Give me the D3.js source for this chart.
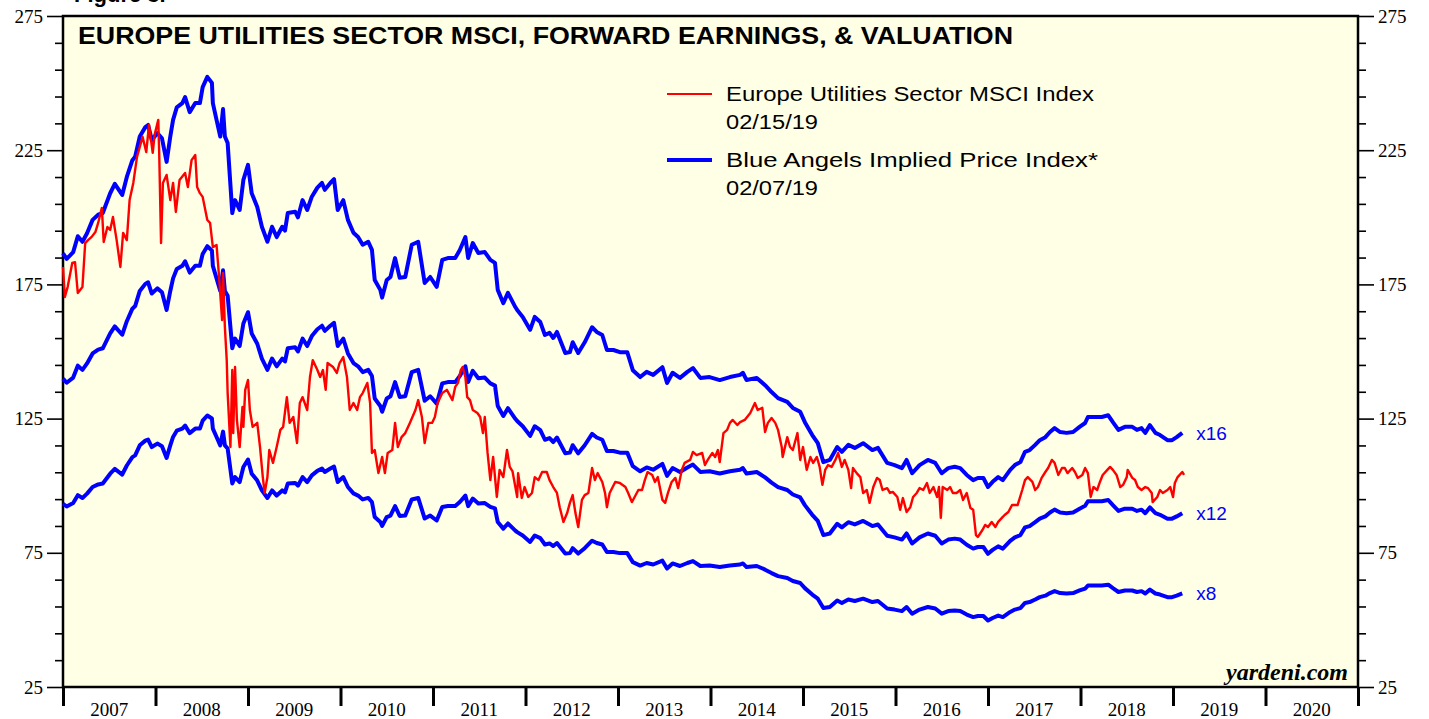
<!DOCTYPE html>
<html>
<head>
<meta charset="utf-8">
<script src="https://cdn.jsdelivr.net/npm/d3@7"></script>
<style>
  body { margin: 0; background: #ffffff; }
  svg { display: block; }
</style>
</head>
<body>
<svg id="drawing_region"></svg>
<script>
// year labels on the x axis, y tick values
const years = d3.range(2007, 2021);
const yTicks = d3.range(25, 276, 10);
const multiples = [16, 12, 8];

// forward earnings (decimal year, value) -- blue lines are these times the multiples
const fwdEarnings = [
  [2007.00,11.66],[2007.04,11.53],[2007.11,11.69],[2007.16,12.06],[2007.21,11.93],[2007.26,12.13],
  [2007.32,12.44],[2007.38,12.56],[2007.43,12.60],[2007.51,13.06],[2007.56,13.28],[2007.64,13.02],
  [2007.69,13.44],[2007.75,13.83],[2007.78,13.91],[2007.83,14.38],[2007.89,14.60],[2007.92,14.65],
  [2007.96,14.30],[2008.02,14.46],[2008.07,14.34],[2008.12,13.79],[2008.16,14.38],[2008.19,14.77],
  [2008.23,15.06],[2008.29,15.16],[2008.32,15.30],[2008.37,14.95],[2008.43,15.16],[2008.48,15.16],
  [2008.51,15.53],[2008.56,15.77],[2008.61,15.63],[2008.62,15.16],[2008.66,14.77],[2008.70,14.38],
  [2008.73,15.02],[2008.75,14.38],[2008.78,14.23],[2008.83,12.60],[2008.86,12.90],[2008.91,12.67],
  [2008.95,13.37],[2009.00,13.72],[2009.04,13.06],[2009.10,12.74],[2009.15,12.28],[2009.21,11.93],
  [2009.26,12.28],[2009.31,12.04],[2009.37,12.28],[2009.40,12.19],[2009.43,12.60],[2009.51,12.63],
  [2009.54,12.50],[2009.59,12.90],[2009.64,12.67],[2009.69,12.98],[2009.75,13.19],[2009.80,13.30],
  [2009.83,13.14],[2009.89,13.30],[2009.93,13.39],[2009.97,12.67],[2010.03,12.90],[2010.08,12.44],
  [2010.14,12.14],[2010.19,12.04],[2010.24,11.86],[2010.30,11.93],[2010.34,11.74],[2010.37,11.04],
  [2010.43,10.81],[2010.45,10.63],[2010.50,11.04],[2010.54,11.11],[2010.59,11.55],[2010.64,11.09],
  [2010.70,11.11],[2010.77,11.86],[2010.84,11.93],[2010.91,10.97],[2010.97,11.11],[2011.04,10.88],
  [2011.10,11.51],[2011.16,11.55],[2011.24,11.55],[2011.29,11.74],[2011.35,12.04],[2011.38,11.55],
  [2011.43,11.90],[2011.49,11.67],[2011.56,11.69],[2011.62,11.51],[2011.67,11.44],[2011.70,10.81],
  [2011.76,10.50],[2011.81,10.74],[2011.89,10.41],[2011.91,10.34],[2011.97,10.18],[2012.05,9.88],
  [2012.10,10.18],[2012.16,10.06],[2012.21,9.76],[2012.26,9.81],[2012.30,9.69],[2012.34,9.83],
  [2012.43,9.34],[2012.48,9.36],[2012.51,9.59],[2012.57,9.34],[2012.64,9.59],[2012.72,9.94],
  [2012.77,9.83],[2012.83,9.76],[2012.88,9.41],[2012.95,9.41],[2013.02,9.36],[2013.10,9.36],
  [2013.16,8.94],[2013.24,8.78],[2013.31,8.90],[2013.38,8.83],[2013.48,9.01],[2013.53,8.64],
  [2013.59,8.88],[2013.67,8.76],[2013.75,8.90],[2013.81,8.99],[2013.89,8.76],[2013.99,8.78],
  [2014.10,8.71],[2014.21,8.78],[2014.32,8.83],[2014.35,8.88],[2014.39,8.71],[2014.50,8.76],
  [2014.59,8.59],[2014.66,8.43],[2014.73,8.29],[2014.83,8.20],[2014.89,8.06],[2014.97,7.97],
  [2015.02,7.73],[2015.10,7.43],[2015.16,7.24],[2015.22,6.80],[2015.29,6.85],[2015.37,7.15],
  [2015.42,7.04],[2015.49,7.20],[2015.56,7.13],[2015.65,7.24],[2015.75,7.08],[2015.81,7.13],
  [2015.91,6.78],[2015.99,6.73],[2016.07,6.66],[2016.12,6.85],[2016.18,6.54],[2016.26,6.73],
  [2016.35,6.85],[2016.43,6.78],[2016.50,6.54],[2016.57,6.66],[2016.64,6.69],[2016.70,6.66],
  [2016.77,6.50],[2016.84,6.38],[2016.89,6.43],[2016.95,6.43],[2017.00,6.22],[2017.05,6.34],
  [2017.11,6.45],[2017.16,6.38],[2017.24,6.62],[2017.29,6.73],[2017.35,6.80],[2017.40,7.04],
  [2017.45,7.08],[2017.51,7.20],[2017.56,7.31],[2017.62,7.38],[2017.67,7.50],[2017.72,7.59],
  [2017.78,7.50],[2017.85,7.48],[2017.92,7.50],[2017.99,7.62],[2018.05,7.71],[2018.08,7.85],
  [2018.16,7.85],[2018.23,7.85],[2018.30,7.89],[2018.35,7.73],[2018.41,7.55],[2018.48,7.62],
  [2018.56,7.62],[2018.61,7.55],[2018.66,7.59],[2018.70,7.48],[2018.75,7.66],[2018.81,7.48],
  [2018.86,7.43],[2018.94,7.31],[2018.99,7.31],[2019.04,7.38],[2019.10,7.48]
];

// Europe Utilities Sector MSCI index (decimal year, value)
const msciIndex = [
  [2007.00,181.5],[2007.02,170.3],[2007.05,174.0],[2007.10,183.0],[2007.13,183.3],[2007.16,171.8],
  [2007.21,174.0],[2007.24,190.4],[2007.27,191.5],[2007.31,192.7],[2007.35,194.5],[2007.38,197.9],
  [2007.42,203.5],[2007.44,190.8],[2007.48,196.4],[2007.51,195.3],[2007.54,200.1],[2007.58,191.5],
  [2007.62,181.5],[2007.65,194.2],[2007.69,191.5],[2007.72,206.4],[2007.76,212.8],[2007.80,222.5],
  [2007.83,226.2],[2007.86,230.0],[2007.90,224.3],[2007.93,234.4],[2007.97,224.0],[2007.99,230.7],
  [2008.03,236.3],[2008.04,224.0],[2008.06,190.4],[2008.08,212.8],[2008.12,215.8],[2008.16,206.4],
  [2008.19,212.8],[2008.22,202.0],[2008.26,213.9],[2008.32,216.5],[2008.35,211.3],[2008.39,221.3],
  [2008.43,223.2],[2008.45,211.3],[2008.48,209.0],[2008.51,207.6],[2008.56,199.0],[2008.59,197.9],
  [2008.62,188.9],[2008.66,189.7],[2008.69,176.6],[2008.72,161.7],[2008.73,179.2],[2008.75,159.1],
  [2008.77,146.8],[2008.78,134.5],[2008.81,114.4],[2008.83,143.1],[2008.84,119.6],[2008.86,144.2],
  [2008.88,124.5],[2008.91,114.4],[2008.94,129.3],[2008.95,121.9],[2008.97,135.7],[2009.00,139.4],
  [2009.02,128.2],[2009.05,121.9],[2009.10,123.4],[2009.13,114.4],[2009.16,103.2],[2009.18,97.3],
  [2009.21,103.2],[2009.23,113.3],[2009.27,108.5],[2009.31,114.4],[2009.35,120.8],[2009.38,121.9],
  [2009.42,133.0],[2009.45,123.4],[2009.49,125.6],[2009.53,115.9],[2009.56,130.8],[2009.59,133.0],
  [2009.64,128.2],[2009.67,140.5],[2009.70,146.8],[2009.75,143.1],[2009.78,140.5],[2009.81,143.1],
  [2009.84,135.7],[2009.86,145.7],[2009.92,144.2],[2009.96,142.0],[2009.99,145.7],[2010.03,147.9],
  [2010.07,140.5],[2010.10,128.2],[2010.14,130.8],[2010.18,128.2],[2010.21,133.0],[2010.24,134.5],
  [2010.29,138.3],[2010.32,130.8],[2010.34,112.2],[2010.37,113.3],[2010.41,104.7],[2010.45,110.7],
  [2010.48,104.7],[2010.51,112.2],[2010.56,113.3],[2010.59,123.4],[2010.62,114.4],[2010.66,118.1],
  [2010.70,119.6],[2010.75,123.4],[2010.81,128.2],[2010.84,131.9],[2010.88,125.6],[2010.91,115.9],
  [2010.95,123.4],[2010.99,123.4],[2011.02,125.6],[2011.05,130.8],[2011.10,134.5],[2011.15,135.7],
  [2011.21,131.9],[2011.24,136.8],[2011.27,138.3],[2011.30,143.1],[2011.32,144.2],[2011.35,140.5],
  [2011.37,133.0],[2011.40,131.9],[2011.43,128.2],[2011.48,127.1],[2011.51,125.6],[2011.54,119.6],
  [2011.56,125.6],[2011.59,112.2],[2011.62,102.1],[2011.65,110.7],[2011.69,95.8],[2011.72,105.9],
  [2011.76,103.2],[2011.80,113.3],[2011.83,107.0],[2011.86,105.3],[2011.91,95.8],[2011.92,104.7],
  [2011.96,95.4],[2011.99,99.5],[2012.03,95.8],[2012.07,97.3],[2012.10,103.2],[2012.14,102.1],
  [2012.18,105.1],[2012.23,105.1],[2012.26,102.1],[2012.30,99.5],[2012.34,97.3],[2012.37,92.0],
  [2012.41,86.5],[2012.45,89.8],[2012.48,93.6],[2012.51,96.5],[2012.54,89.8],[2012.57,84.6],
  [2012.61,94.7],[2012.64,96.5],[2012.68,97.3],[2012.72,106.6],[2012.75,102.1],[2012.78,104.7],
  [2012.83,101.4],[2012.86,97.3],[2012.88,92.0],[2012.91,97.3],[2012.97,101.4],[2013.02,101.0],
  [2013.08,99.5],[2013.11,97.3],[2013.15,93.9],[2013.18,95.8],[2013.22,98.4],[2013.26,98.4],
  [2013.29,102.1],[2013.32,105.1],[2013.37,104.0],[2013.40,101.4],[2013.43,103.2],[2013.48,94.7],
  [2013.51,93.6],[2013.54,97.3],[2013.58,101.4],[2013.62,102.9],[2013.65,99.1],[2013.69,105.9],
  [2013.72,108.5],[2013.78,109.6],[2013.81,112.6],[2013.85,111.4],[2013.91,112.2],[2013.94,107.7],
  [2013.97,109.6],[2014.02,112.2],[2014.05,110.7],[2014.08,113.3],[2014.10,108.8],[2014.14,119.6],
  [2014.18,120.8],[2014.21,123.4],[2014.24,124.5],[2014.29,122.6],[2014.32,123.7],[2014.37,124.5],
  [2014.43,127.1],[2014.48,130.8],[2014.51,128.2],[2014.56,129.0],[2014.59,120.0],[2014.62,123.4],
  [2014.66,125.2],[2014.70,123.4],[2014.73,120.8],[2014.77,114.4],[2014.78,110.7],[2014.83,118.1],
  [2014.86,114.4],[2014.89,113.3],[2014.94,119.6],[2014.97,109.6],[2015.00,114.4],[2015.04,105.9],
  [2015.08,110.7],[2015.11,108.5],[2015.15,110.7],[2015.18,107.0],[2015.21,100.3],[2015.24,105.9],
  [2015.27,107.7],[2015.31,107.0],[2015.35,109.6],[2015.38,112.2],[2015.42,107.0],[2015.45,109.6],
  [2015.49,105.9],[2015.52,99.1],[2015.54,106.6],[2015.58,104.7],[2015.62,103.2],[2015.65,97.3],
  [2015.69,98.4],[2015.72,93.6],[2015.76,99.5],[2015.80,102.9],[2015.83,102.1],[2015.86,98.4],
  [2015.91,99.1],[2015.94,97.3],[2015.97,97.7],[2016.02,95.8],[2016.05,91.0],[2016.08,95.4],
  [2016.12,90.2],[2016.16,92.0],[2016.19,95.8],[2016.23,97.3],[2016.26,99.1],[2016.30,98.4],
  [2016.34,101.0],[2016.37,97.3],[2016.41,99.5],[2016.45,95.8],[2016.47,99.5],[2016.49,88.0],
  [2016.51,99.5],[2016.56,98.4],[2016.59,99.5],[2016.62,97.3],[2016.66,97.3],[2016.70,98.4],
  [2016.73,94.7],[2016.77,97.3],[2016.81,91.7],[2016.84,91.0],[2016.87,81.6],[2016.89,80.9],
  [2016.94,83.5],[2016.97,85.4],[2017.00,84.6],[2017.04,86.5],[2017.08,84.6],[2017.11,86.5],
  [2017.15,88.0],[2017.18,89.1],[2017.22,90.2],[2017.26,92.8],[2017.29,92.8],[2017.32,92.8],
  [2017.37,98.4],[2017.40,102.1],[2017.43,103.2],[2017.48,101.4],[2017.51,98.4],[2017.54,99.5],
  [2017.58,102.9],[2017.62,105.1],[2017.65,106.6],[2017.69,109.6],[2017.72,108.5],[2017.76,104.0],
  [2017.80,106.6],[2017.83,106.6],[2017.86,104.7],[2017.91,106.6],[2017.94,105.1],[2017.97,102.9],
  [2018.02,104.0],[2018.05,106.6],[2018.08,104.7],[2018.11,95.8],[2018.14,99.5],[2018.18,98.4],
  [2018.21,101.4],[2018.24,104.0],[2018.29,105.9],[2018.32,107.0],[2018.35,105.9],[2018.39,104.0],
  [2018.43,99.5],[2018.46,100.3],[2018.50,103.2],[2018.51,105.9],[2018.56,102.9],[2018.59,102.1],
  [2018.62,99.5],[2018.66,98.4],[2018.70,99.5],[2018.73,99.1],[2018.77,97.3],[2018.78,93.9],
  [2018.83,95.8],[2018.86,98.4],[2018.89,97.3],[2018.94,98.4],[2018.97,99.5],[2019.00,95.8],
  [2019.02,101.0],[2019.05,103.2],[2019.10,105.1],[2019.12,104.0]
];

const legendItems = [
  { name: 'Europe Utilities Sector MSCI Index', date: '02/15/19', color: '#ff0000', width: 2.2, len: 368 },
  { name: 'Blue Angels Implied Price Index*', date: '02/07/19', color: '#0000ff', width: 4, len: 372 }
];

var config = {
  parent: '#drawing_region',
  width: 1429,
  height: 719,
  margin: { top: 16, right: 71, bottom: 32, left: 63 },
  title: 'EUROPE UTILITIES SECTOR MSCI, FORWARD EARNINGS, & VALUATION'
};

class ValuationChart {
  constructor(config) {
    this.config = config;
    this.init();
  }
  init() {
    const c = this.config;
    this.svg = d3.select(c.parent)
      .attr('width', c.width)
      .attr('height', c.height);
    this.inner_width = c.width - c.margin.left - c.margin.right;
    this.inner_height = c.height - c.margin.top - c.margin.bottom;
    this.chart = this.svg.append('g')
      .attr('transform', `translate(${c.margin.left}, ${c.margin.top})`);

    this.xscale = d3.scaleLinear().domain([2007, 2021]).range([0, this.inner_width]);
    this.yscale = d3.scaleLinear().domain([25, 275]).range([this.inner_height, 0]);

    this.line = d3.line()
      .x(d => this.xscale(d[0]))
      .y(d => this.yscale(d[1]));
  }
  render() {
    const c = this.config;
    const serif = '"Liberation Serif", "Times New Roman", serif';
    const sans = '"Liberation Sans", Arial, sans-serif';

    // partly cropped heading above the frame
    this.svg.append('text')
      .attr('x', 74).attr('y', 2)
      .attr('font-family', sans).attr('font-weight', 'bold').attr('font-size', 22)
      .text('Figure 3.');

    this.chart.append('rect')
      .attr('width', this.inner_width).attr('height', this.inner_height)
      .attr('fill', '#ffffe5');

    // y axes, major every 50, minor every 10
    const major = v => (v - 25) % 50 === 0;
    const yl = this.chart.append('g')
      .call(d3.axisLeft(this.yscale).tickValues(yTicks).tickSizeOuter(0)
        .tickFormat(v => major(v) ? v : ''));
    const yr = this.chart.append('g')
      .attr('transform', `translate(${this.inner_width}, 0)`)
      .call(d3.axisRight(this.yscale).tickValues(yTicks).tickSizeOuter(0)
        .tickFormat(v => major(v) ? v : ''));
    [yl, yr].forEach(g => {
      g.select('.domain').remove();
      g.selectAll('.tick line')
        .attr('stroke-width', 1.6)
        .attr('x2', function(d) { return (g === yl ? -1 : 1) * (major(d) ? 16 : 8); });
      g.selectAll('.tick text')
        .attr('font-family', serif).attr('font-size', 19).attr('fill', '#000')
        .attr('x', g === yl ? -20 : 20);
    });

    // x axis: ticks at year boundaries, labels centered in each year
    const xa = this.chart.append('g')
      .attr('transform', `translate(0, ${this.inner_height})`)
      .call(d3.axisBottom(this.xscale).tickValues(d3.range(2007, 2022))
        .tickSize(19).tickSizeOuter(0).tickFormat(''));
    xa.select('.domain').remove();
    xa.selectAll('.tick line').attr('stroke-width', 3);
    xa.selectAll('.year')
      .data(years)
      .join('text')
      .attr('class', 'year')
      .attr('x', d => this.xscale(d + 0.5))
      .attr('y', 29)
      .attr('text-anchor', 'middle')
      .attr('fill', '#000')
      .attr('font-family', serif).attr('font-size', 19)
      .text(d => d);

    // frame
    this.chart.append('rect')
      .attr('width', this.inner_width).attr('height', this.inner_height)
      .attr('fill', 'none').attr('stroke', '#000').attr('stroke-width', 2.5);

    // title
    this.chart.append('text')
      .attr('x', 15).attr('y', 28)
      .attr('font-family', sans).attr('font-weight', 'bold').attr('font-size', 23)
      .attr('textLength', 935).attr('lengthAdjust', 'spacingAndGlyphs')
      .text(c.title);

    // blue implied price lines
    multiples.forEach(m => {
      const pts = fwdEarnings.map(d => [d[0], d[1] * m]);
      this.chart.append('path')
        .attr('d', this.line(pts))
        .attr('fill', 'none').attr('stroke', '#0000ff')
        .attr('stroke-width', 4).attr('stroke-linejoin', 'round');
      const last = pts[pts.length - 1];
      this.chart.append('text')
        .attr('x', this.xscale(last[0]) + 14)
        .attr('y', this.yscale(last[1]))
        .attr('dy', '0.35em')
        .attr('font-family', sans).attr('font-size', 19).attr('fill', '#0000ff')
        .text('x' + m);
    });

    // red index line
    this.chart.append('path')
      .attr('d', this.line(msciIndex))
      .attr('fill', 'none').attr('stroke', '#ff0000')
      .attr('stroke-width', 2.4).attr('stroke-linejoin', 'round');

    // legend
    const lg = this.chart.selectAll('.legend')
      .data(legendItems)
      .join('g')
      .attr('class', 'legend')
      .attr('transform', (d, i) => `translate(604, ${78 + i * 66})`);
    lg.append('line')
      .attr('x1', 0).attr('x2', 45)
      .attr('stroke', d => d.color).attr('stroke-width', d => d.width);
    lg.append('text')
      .attr('x', 59).attr('y', 7)
      .attr('font-family', sans).attr('font-size', 20)
      .attr('textLength', d => d.len).attr('lengthAdjust', 'spacingAndGlyphs')
      .text(d => d.name);
    lg.append('text')
      .attr('x', 59).attr('y', 35)
      .attr('font-family', sans).attr('font-size', 20)
      .attr('textLength', 92).attr('lengthAdjust', 'spacingAndGlyphs')
      .text(d => d.date);

    // source
    this.chart.append('text')
      .attr('x', this.inner_width - 10).attr('y', this.inner_height - 7)
      .attr('text-anchor', 'end')
      .attr('font-family', serif).attr('font-weight', 'bold').attr('font-style', 'italic')
      .attr('font-size', 24)
      .text('yardeni.com');
  }
}

const chart = new ValuationChart(config);
chart.render();
</script>
</body>
</html>
